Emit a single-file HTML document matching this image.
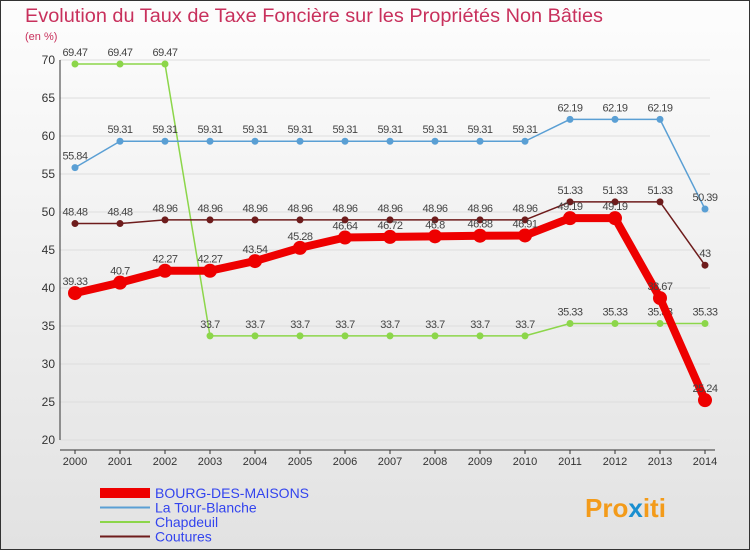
<!DOCTYPE html>
<html><head><meta charset="utf-8"><style>
body{margin:0;background:#fff}
svg{display:block;font-family:"Liberation Sans",sans-serif}
</style></head><body>
<svg width="750" height="550" viewBox="0 0 750 550">
<defs><linearGradient id="bg" x1="0" y1="0" x2="0" y2="1"><stop offset="0" stop-color="#fdfdfd"/><stop offset="1" stop-color="#e2e2e2"/></linearGradient></defs>
<rect x="0.5" y="0.5" width="749" height="549" fill="url(#bg)" stroke="#333"/>
<text x="25" y="22" font-size="19" fill="#c8305c" textLength="578" lengthAdjust="spacingAndGlyphs">Evolution du Taux de Taxe Foncière sur les Propriétés Non Bâties</text>
<text x="25" y="40" font-size="11" fill="#c8305c">(en %)</text>
<g id="axes"></g>
<g id="series"></g>
<g id="legend"></g>
<text x="585" y="517" font-size="26" font-weight="bold" fill="#f39b1a">Pro<tspan fill="#1a8fd0">x</tspan>iti</text>
</svg>
<script>
const years=[2000,2001,2002,2003,2004,2005,2006,2007,2008,2009,2010,2011,2012,2013,2014];
const yTicks=[20,25,30,35,40,45,50,55,60,65,70];
const bourg=[39.33,40.7,42.27,42.27,43.54,45.28,46.64,46.72,46.8,46.88,46.91,49.19,49.19,38.67,25.24];
const tour=[55.84,59.31,59.31,59.31,59.31,59.31,59.31,59.31,59.31,59.31,59.31,62.19,62.19,62.19,50.39];
const chap=[69.47,69.47,69.47,33.7,33.7,33.7,33.7,33.7,33.7,33.7,33.7,35.33,35.33,35.33,35.33];
const cout=[48.48,48.48,48.96,48.96,48.96,48.96,48.96,48.96,48.96,48.96,48.96,51.33,51.33,51.33,43];
const NS="http://www.w3.org/2000/svg";
const x=i=>75+i*45, y=v=>60+(70-v)*7.6;
function mk(t,a,p){const e=document.createElementNS(NS,t);for(const k in a)e.setAttribute(k,a[k]);if(p)p.appendChild(e);return e;}
const ax=document.getElementById('axes');
yTicks.forEach(v=>{
 const g=mk('line',{x1:60,x2:710,y1:y(v),y2:y(v),stroke:'#ddd'},ax);
 
 
 const t=mk('text',{x:55,y:y(v)+4,'font-size':12,fill:'#333','text-anchor':'end'},ax);t.textContent=v;
 
 
});
const yl=mk('line',{x1:60,x2:60,y1:60,y2:440,stroke:'#333'},ax);


const xl=mk('line',{x1:60,x2:715,y1:450,y2:450,stroke:'#333'},ax);


years.forEach((yr,i)=>{
 mk('line',{x1:x(i),x2:x(i),y1:450,y2:454,stroke:'#333'},ax);
 const t=mk('text',{x:x(i),y:465,'font-size':11,fill:'#333','text-anchor':'middle'},ax);t.textContent=yr;
 
 
});
const se=document.getElementById('series');
function draw(d,col,w,r,name){
 const g=mk('g',{},se);
 
 
 mk('polyline',{points:d.map((v,i)=>x(i)+','+y(v)).join(' '),fill:'none',stroke:col,'stroke-width':w,'stroke-linejoin':'round'},g);
 d.forEach((v,i)=>{
  const c=mk('circle',{cx:x(i),cy:y(v),r:r,fill:col},g);
  
  
  const t=mk('text',{x:x(i),y:y(v)-8,'font-size':11,fill:'#444','text-anchor':'middle','letter-spacing':'-0.5'},g);t.textContent=v;
 });
}
draw(chap,'#8cd64a',1.5,3.5,'series-chapdeuil');
draw(tour,'#5a9fd4',1.5,3.5,'series-la-tour-blanche');
draw(cout,'#6e1c1c',1.5,3.5,'series-coutures');
draw(bourg,'#ee0000',8,7,'series-bourg-des-maisons');
const lg=document.getElementById('legend');
[['BOURG-DES-MAISONS','#ee0000',10],['La Tour-Blanche','#5a9fd4',2],['Chapdeuil','#8cd64a',2],['Coutures','#6e1c1c',2]].forEach((e,i)=>{
 const yy=493+i*14.5;
 const l=mk('line',{x1:100,x2:150,y1:yy,y2:yy,stroke:e[1],'stroke-width':e[2]},lg);
 
 
 const t=mk('text',{x:155,y:yy+5,'font-size':14,fill:'#3344ee'},lg);t.textContent=e[0];
 
 
});
</script>
</body></html>
